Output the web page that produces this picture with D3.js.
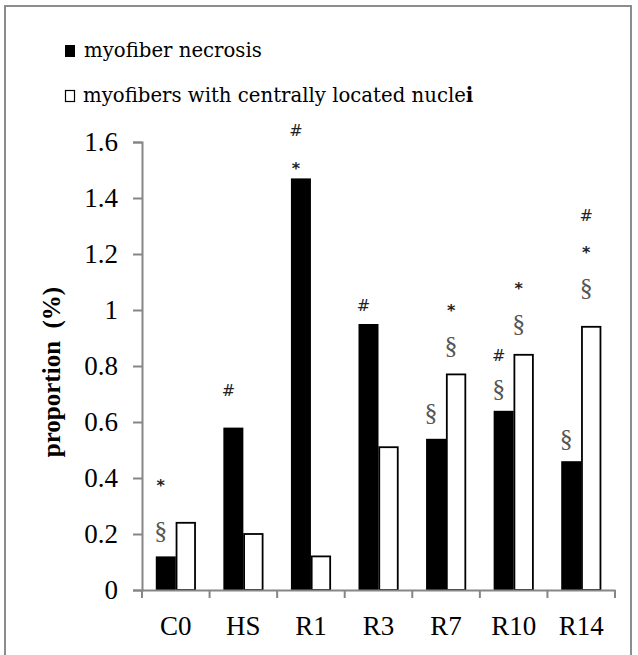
<!DOCTYPE html>
<html>
<head>
<meta charset="utf-8">
<script src="https://cdn.jsdelivr.net/npm/d3@7"></script>
<style>
  body { margin: 0; background: #fff; }
  svg { display: block; }
</style>
</head>
<body>
<script>
'use strict';

// data
var categories = ['C0', 'HS', 'R1', 'R3', 'R7', 'R10', 'R14'];
var necrosis = [0.12, 0.58, 1.47, 0.95, 0.54, 0.64, 0.46];
var centralNuclei = [0.24, 0.20, 0.12, 0.51, 0.77, 0.84, 0.94];
var yTicks = [0, 0.2, 0.4, 0.6, 0.8, 1, 1.2, 1.4, 1.6];
var yTickLabels = ['0', '0.2', '0.4', '0.6', '0.8', '1', '1.2', '1.4', '1.6'];

// significance marks: category, series (0 = necrosis, 1 = nuclei), symbol, level
var marks = [
  ['C0', 0, '*', 0.39], ['C0', 0, '§', 0.214],
  ['HS', 0, '#', 0.714],
  ['R1', 0, '#', 1.643], ['R1', 0, '*', 1.521],
  ['R3', 0, '#', 1.018],
  ['R7', 0, '§', 0.636], ['R7', 1, '*', 1.014], ['R7', 1, '§', 0.875],
  ['R10', 0, '#', 0.839], ['R10', 0, '§', 0.721],
  ['R10', 1, '*', 1.093], ['R10', 1, '§', 0.954],
  ['R14', 0, '§', 0.543],
  ['R14', 1, '#', 1.339], ['R14', 1, '*', 1.221], ['R14', 1, '§', 1.082]
];

var width = 638, height = 655;
var serif = '"Liberation Serif", "DejaVu Serif", serif';
var wideSerif = '"DejaVu Serif", "Liberation Serif", serif';

var svg = d3.select('body').append('svg')
  .attr('width', width)
  .attr('height', height);

// outer frame
svg.append('rect')
  .attr('x', 5)
  .attr('y', 6)
  .attr('width', 626)
  .attr('height', 680)
  .attr('fill', 'none')
  .attr('stroke', '#8c8c8c')
  .attr('stroke-width', 2);

var x = d3.scaleBand()
  .domain(categories)
  .range([142, 615])
  .paddingInner(0)
  .paddingOuter(0);

var barWidth = 20;
var barOffset = (x.bandwidth() - 2 * barWidth) / 2;

var y = d3.scaleLinear()
  .domain([0, 1.6])
  .range([590, 142]);

// y axis
var yAxis = svg.append('g')
  .attr('transform', 'translate(142,0)')
  .call(d3.axisLeft(y)
    .tickValues(yTicks)
    .tickFormat(function(d, i){ return yTickLabels[i]; })
    .tickSize(9)
    .tickPadding(15));
yAxis.select('.domain').attr('stroke', '#868686').attr('stroke-width', 2);
yAxis.selectAll('.tick line').attr('stroke', '#868686').attr('stroke-width', 2);
yAxis.selectAll('.tick text')
  .attr('font-family', serif)
  .attr('font-size', 27)
  .attr('fill', '#000');

// bars
svg.selectAll('.necro')
    .data(necrosis)
  .enter().append('rect')
    .attr('class', 'necro')
    .attr('x', function(d, i){ return x(categories[i]) + barOffset; })
    .attr('y', function(d){ return y(d); })
    .attr('width', barWidth)
    .attr('height', function(d){ return y(0) - y(d); })
    .attr('fill', '#000');

svg.selectAll('.nuclei')
    .data(centralNuclei)
  .enter().append('rect')
    .attr('class', 'nuclei')
    .attr('x', function(d, i){ return x(categories[i]) + barOffset + barWidth + 0.75; })
    .attr('y', function(d){ return y(d); })
    .attr('width', barWidth - 1.5)
    .attr('height', function(d){ return y(0) - y(d); })
    .attr('fill', '#fff')
    .attr('stroke', '#000')
    .attr('stroke-width', 1.8);

// x axis
var xAxis = svg.append('g')
  .attr('transform', 'translate(0,590)')
  .call(d3.axisBottom(x).tickSize(0).tickPadding(26));
xAxis.select('.domain').attr('stroke', '#868686').attr('stroke-width', 2);
xAxis.selectAll('.tick text')
  .attr('font-family', serif)
  .attr('font-size', 27)
  .attr('fill', '#000');
// boundary ticks between categories
svg.selectAll('.xtick')
    .data(d3.range(categories.length + 1))
  .enter().append('line')
    .attr('class', 'xtick')
    .attr('x1', function(d){ return x.range()[0] + d * x.step(); })
    .attr('x2', function(d){ return x.range()[0] + d * x.step(); })
    .attr('y1', 590)
    .attr('y2', 598)
    .attr('stroke', '#868686')
    .attr('stroke-width', 2);

// significance marks
svg.selectAll('.mark')
    .data(marks)
  .enter().append('text')
    .attr('class', 'mark')
    .attr('x', function(d){
      return x(d[0]) + barOffset + d[1] * barWidth + barWidth / 2 - 5;
    })
    .attr('y', function(d){ return y(d[3]); })
    .attr('text-anchor', 'middle')
    .attr('dy', function(d){ return d[2] === '*' ? '0.62em' : '0.35em'; })
    .attr('font-family', function(d){ return d[2] === '§' ? serif : '"DejaVu Sans", sans-serif'; })
    .attr('font-size', function(d){ return d[2] === '§' ? 26 : 16; })
    .attr('font-weight', function(d){ return d[2] === '*' ? 'bold' : 'normal'; })
    .attr('fill', function(d){ return d[2] === '§' ? '#555' : '#222'; })
    .text(function(d){ return d[2]; });

// y axis title
svg.append('text')
  .attr('transform', 'translate(60,372) rotate(-90)')
  .attr('text-anchor', 'middle')
  .attr('font-family', serif)
  .attr('font-size', 25)
  .attr('font-weight', 'bold')
  .attr('fill', '#000')
  .attr('xml:space', 'preserve')
  .text('proportion  (%)');

// legend
var legend = svg.append('g');
legend.append('rect')
  .attr('x', 65).attr('y', 45)
  .attr('width', 10).attr('height', 12)
  .attr('fill', '#000');
legend.append('text')
  .attr('x', 84).attr('y', 57)
  .attr('font-family', wideSerif)
  .attr('font-size', 19.7)
  .attr('fill', '#000')
  .text('myofiber necrosis');
legend.append('rect')
  .attr('x', 65.5).attr('y', 90.5)
  .attr('width', 9).attr('height', 11)
  .attr('fill', '#fff')
  .attr('stroke', '#000')
  .attr('stroke-width', 1.2);
var t2 = legend.append('text')
  .attr('x', 83).attr('y', 102)
  .attr('font-family', wideSerif)
  .attr('font-size', 19.7)
  .attr('fill', '#000');
t2.append('tspan').text('myofibers with centrally located nucle');
t2.append('tspan').attr('font-weight', 'bold').text('i');
</script>
</body>
</html>
